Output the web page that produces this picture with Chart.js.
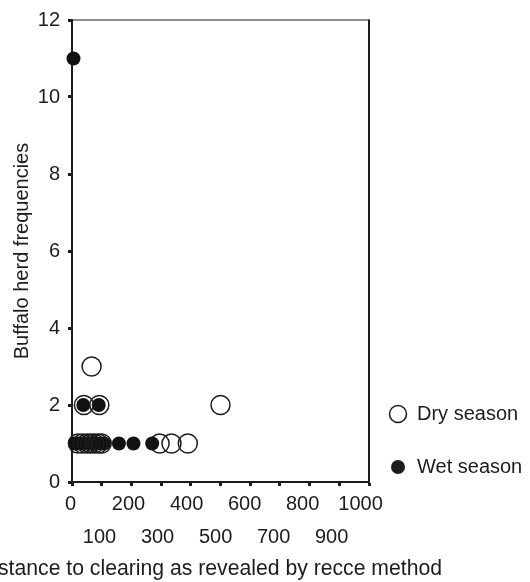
<!DOCTYPE html>
<html>
<head>
<meta charset="utf-8">
<script src="https://cdn.jsdelivr.net/npm/chart.js@4.4.1/dist/chart.umd.min.js"></script>
<style>
  html, body { margin: 0; padding: 0; background: #fff; }
  #wrap { position: relative; width: 530px; height: 582px; }
</style>
</head>
<body>
<div id="wrap"><canvas id="c"></canvas></div>
<script>
// ---- data ----
const dryX = [66, 40, 92, 500, 20, 35, 50, 62, 75, 88, 100, 295, 335, 390];
const dryY = [3, 2, 2, 2, 1, 1, 1, 1, 1, 1, 1, 1, 1, 1];
const wetX = [5, 38, 90, 10, 20, 30, 40, 50, 60, 70, 80, 95, 108, 158, 207, 270];
const wetY = [11, 2, 2, 1, 1, 1, 1, 1, 1, 1, 1, 1, 1, 1, 1, 1];
const seriesNames = ['Dry season', 'Wet season'];
const xTickLabels = ['0', '100', '200', '300', '400', '500', '600', '700', '800', '900', '1000'];
const yTickLabels = ['0', '2', '4', '6', '8', '10', '12'];
const xTitle = 'Distance to clearing as revealed by recce method';
const yTitle = 'Buffalo herd frequencies';

const INK = '#1c1c1c';
const FONT = "'Liberation Sans', Arial, sans-serif";

const toPts = (xs, ys) => xs.map((x, i) => ({ x: x, y: ys[i] }));

const framePlugin = {
  id: 'frame',
  afterDatasetsDraw(chart) {
    const { ctx, chartArea: a } = chart;
    ctx.save();
    ctx.strokeStyle = INK;
    ctx.lineWidth = 1.2;
    ctx.beginPath();
    ctx.moveTo(a.left, a.top);
    ctx.lineTo(a.right, a.top);
    ctx.stroke();
    ctx.lineWidth = 2;
    ctx.beginPath();
    ctx.moveTo(a.right, a.top - 0.6);
    ctx.lineTo(a.right, a.bottom);
    ctx.stroke();
    ctx.restore();
  },
  afterDraw(chart) {
    const { ctx, chartArea: a } = chart;
    ctx.save();
    ctx.fillStyle = INK;
    ctx.font = '21.2px ' + FONT;
    ctx.textAlign = 'center';
    ctx.textBaseline = 'middle';
    ctx.fillText(xTitle, (a.left + a.right) / 2 - 10.5, a.bottom + 87);

    // legend
    const lx = a.right + 29;
    const rows = [a.bottom - 68, a.bottom - 15];
    ctx.font = '20px ' + FONT;
    ctx.textAlign = 'left';
    ctx.lineWidth = 1.5;
    ctx.strokeStyle = INK;
    ctx.beginPath();
    ctx.arc(lx, rows[0], 8.5, 0, Math.PI * 2);
    ctx.stroke();
    ctx.fillText(seriesNames[0], lx + 19, rows[0]);
    ctx.beginPath();
    ctx.arc(lx, rows[1], 7, 0, Math.PI * 2);
    ctx.fill();
    ctx.fillText(seriesNames[1], lx + 19, rows[1]);
    ctx.restore();
  }
};

new Chart(document.getElementById('c'), {
  type: 'scatter',
  data: {
    datasets: [
      {
        label: seriesNames[0],
        data: toPts(dryX, dryY),
        xAxisID: 'x',
        pointRadius: 9.5,
        pointBorderWidth: 1.5,
        borderColor: INK,
        backgroundColor: 'rgba(0,0,0,0)',
        pointBackgroundColor: 'rgba(0,0,0,0)',
        pointBorderColor: INK,
        clip: false
      },
      {
        label: seriesNames[1],
        data: toPts(wetX, wetY),
        xAxisID: 'x',
        pointRadius: 7,
        pointBorderWidth: 0,
        borderColor: INK,
        backgroundColor: '#111',
        pointBackgroundColor: '#111',
        clip: false
      }
    ]
  },
  options: {
    responsive: true,
    maintainAspectRatio: false,
    animation: false,
    events: [],
    layout: { padding: { top: 16, right: 161, left: 0, bottom: 0 } },
    plugins: {
      legend: { display: false },
      tooltip: { enabled: false }
    },
    scales: {
      x: {
        type: 'linear',
        position: 'bottom',
        min: 0,
        max: 1000,
        afterFit(s) { s.height = 4; },
        afterBuildTicks(s) { s.ticks = xTickLabels.map(v => ({ value: Number(v) })); },
        ticks: { display: false },
        grid: { drawOnChartArea: false, drawTicks: true, tickLength: 4, tickWidth: 3, tickColor: INK },
        border: { display: true, width: 2, color: INK },
        title: { display: false }
      },
      xLabels: {
        type: 'linear',
        position: 'bottom',
        min: 5,
        max: 1029,
        afterFit(s) { s.height = 96; },
        afterBuildTicks(s) { s.ticks = xTickLabels.map(v => ({ value: Number(v) })); },
        ticks: {
          autoSkip: false,
          maxRotation: 0,
          padding: 2,
          color: INK,
          font: { family: FONT, size: 20, lineHeight: 1.65 },
          callback(v, i) {
            const lbl = xTickLabels[i];
            return i % 2 === 0 ? [lbl, ''] : ['', lbl];
          }
        },
        grid: { display: false, drawTicks: false },
        border: { display: false }
      },
      y: {
        type: 'linear',
        min: 0,
        max: 12,
        afterFit(s) { s.width = 72; },
        afterBuildTicks(s) { s.ticks = yTickLabels.map(v => ({ value: Number(v) })); },
        ticks: {
          padding: 8,
          color: INK,
          font: { family: FONT, size: 20 },
          callback(v, i) { return yTickLabels[i]; }
        },
        grid: { drawOnChartArea: false, drawTicks: true, tickLength: 4, tickWidth: 3, tickColor: INK },
        border: { display: true, width: 2, color: INK },
        title: {
          display: true,
          text: yTitle,
          color: INK,
          font: { family: FONT, size: 20 },
          padding: { top: 10, bottom: 0 }
        }
      }
    }
  },
  plugins: [framePlugin]
});
</script>
</body>
</html>
